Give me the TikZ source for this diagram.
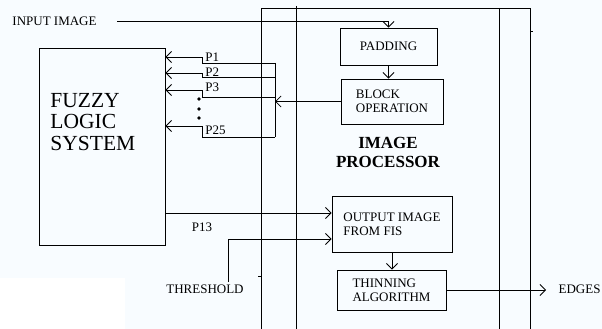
\documentclass[tikz,border=0pt]{standalone}
\usepackage{fontspec}
\setmainfont{Liberation Serif}
\usetikzlibrary{arrows.meta}
\definecolor{bgtint}{RGB}{248,252,255}

\begin{document}
\begin{tikzpicture}[x=1pt,y=-1pt,line width=0.9pt,
  box/.style={draw,rectangle,inner sep=0pt,align=left,font=\fontsize{13}{14}\selectfont},
  lbl/.style={inner sep=0pt,font=\fontsize{13}{14}\selectfont},
  arr/.style={-{Straight Barb[length=5.5pt,width=11pt,line width=0.8pt]}}]
\useasboundingbox (0,0) rectangle (602,329);
\fill [bgtint] (0,0) rectangle (602,329);
\fill [white] (0,278) rectangle (125,329);
% image processor frame
\draw (261,329) -- (261,8) -- (530,8) -- (530,329);
\draw (296,6) -- (296,329);
\draw (499,8) -- (499,329);
\draw (530,31) -- (533,31);
\draw (258,276) -- (261,276);
\node [inner sep=0pt,align=center,font=\fontsize{17}{19}\bfseries] (iptxt) at (388,152) {IMAGE\\PROCESSOR};
% boxes
\node [box,minimum width=126pt,minimum height=197pt] (fls) at (102,146.5) {};
\node [inner sep=0pt,align=left,anchor=west,font=\fontsize{21.5}{21.5}\selectfont] (flstxt) at (50,122) {FUZZY\\LOGIC\\SYSTEM};
\node [box,minimum width=97pt,minimum height=37pt] (pad) at (388.5,46.5) {PADDING};
\node [box,minimum width=102pt,minimum height=45pt] (blk) at (392,101.5) {BLOCK\\OPERATION};
\node [box,minimum width=120pt,minimum height=56pt] (out) at (392,224) {OUTPUT IMAGE\\FROM FIS};
\node [box,minimum width=109pt,minimum height=40pt] (thin) at (391.5,290) {THINNING\\ALGORITHM};
% input
\node [lbl,anchor=west] (inp) at (12,21) {INPUT IMAGE};
\draw [arr] ([xshift=20pt]inp.east) -| (pad.north);
\draw [arr] (pad.south) -- (pad.south |- blk.north);
% bus to the fuzzy system
\coordinate (bustop) at (275,63);
\coordinate (busbot) at (275,137);
\draw (bustop) -- (busbot);
\draw [arr] (blk.west) -- (blk.west -| bustop);
\coordinate (p1) at (202,63);
\draw [arr] (bustop) -- (p1) |- (fls.east |- 0,57);
\node [lbl,anchor=west] (p1txt) at (205,57) {P1};
\coordinate (p2) at (202,77);
\draw [arr] (p2 -| bustop) -- (p2) |- (fls.east |- 0,73);
\node [lbl,anchor=west] (p2txt) at (205,72) {P2};
\coordinate (p3) at (202,97);
\draw [arr] (p3 -| bustop) -- (p3) |- (fls.east |- 0,90);
\node [lbl,anchor=west] (p3txt) at (205,87) {P3};
\coordinate (p25) at (202,137);
\draw [arr] (busbot) -- (p25) |- (fls.east |- 0,126);
\node [lbl,anchor=west] (p25txt) at (205,130) {P25};
\fill (199,99) circle (1.8);
\fill (199,109) circle (1.8);
\fill (199,118) circle (1.8);
% p13 and threshold
\draw [arr] (fls.east |- 0,213) -- (out.west |- 0,213);
\node [lbl] (p13txt) at (202,227) {P13};
\node [lbl] (thr) at (205,289) {THRESHOLD};
\draw [arr] ([xshift=23pt,yshift=2pt]thr.north) |- (out.west |- 0,239);
\draw [arr] (out.south) -- (out.south |- thin.north);
% edges
\coordinate (edg) at (546,290);
\draw [arr] (thin.east) -- (edg);
\node [lbl,anchor=east] (edgtxt) at (601,289) {EDGES};
\end{tikzpicture}
\end{document}
